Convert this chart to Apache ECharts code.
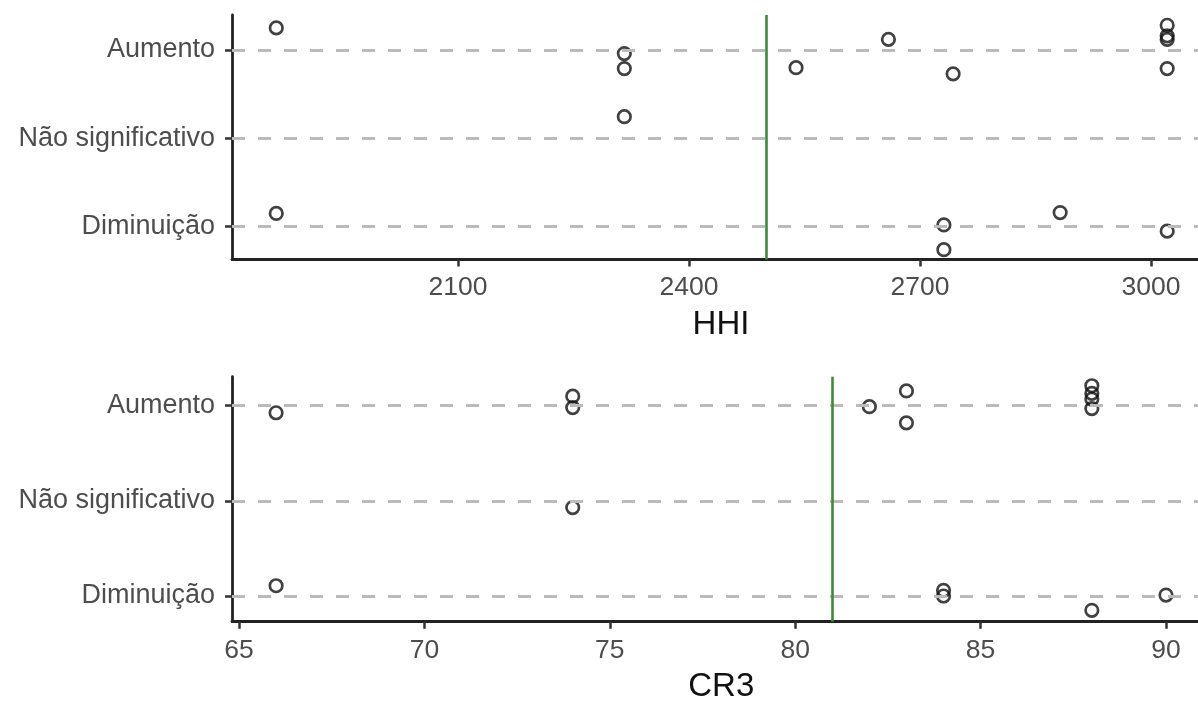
<!DOCTYPE html>
<html>
<head>
<meta charset="utf-8">
<script src="https://cdn.jsdelivr.net/npm/echarts@6/dist/echarts.min.js"></script>
<style>
html,body{margin:0;padding:0;background:#fff;}
#chart{width:1198px;height:701px;}
</style>
</head>
<body>
<div id="chart"></div>
<script>
// Category labels (index 1..3 on the y axis)
const categories = ['Diminuição', 'Não significativo', 'Aumento'];

// HHI panel: x value, category index (1..3), vertical jitter
const hhiX      = [1864, 2316, 2316, 2539, 2659, 2743, 3021, 3021, 3021, 3021, 2316, 1864, 2731, 2731, 2882, 3021];
const hhiCat    = [3, 3, 3, 3, 3, 3, 3, 3, 3, 3, 2, 1, 1, 1, 1, 1];
const hhiJitter = [0.25, -0.04, -0.21, -0.20, 0.12, -0.27, 0.28, 0.16, 0.12, -0.21, 0.245, 0.15, 0.02, -0.26, 0.16, -0.05];
const hhiThreshold = 2500;
const hhiTicks = [2100, 2400, 2700, 3000];

// CR3 panel
const cr3X      = [66, 74, 74, 82, 83, 83, 88, 88, 88, 88, 74, 66, 84, 84, 88, 90];
const cr3Cat    = [3, 3, 3, 3, 3, 3, 3, 3, 3, 3, 2, 1, 1, 1, 1, 1];
const cr3Jitter = [-0.074, 0.10, -0.02, -0.01, 0.155, -0.18, 0.21, 0.13, 0.07, -0.03, -0.07, 0.108, 0.06, 0.0, -0.15, 0.01];
const cr3Threshold = 81;
const cr3Ticks = [65, 70, 75, 80, 85, 90];

const catTicks = [1, 2, 3];

const FONT = '"Liberation Sans", Arial, sans-serif';
const pts = (xs, cs, js) => xs.map((x, i) => [x, cs[i] + js[i]]);

function xAxisCfg(idx, min, max, ticks, name) {
  return {
    gridIndex: idx, type: 'value', min: min, max: max,
    name: name, nameLocation: 'middle', nameGap: 49,
    nameTextStyle: { fontFamily: FONT, fontSize: 33, color: '#111' },
    axisLine: { show: true, lineStyle: { color: '#222', width: 2.8 } },
    axisTick: { show: true, customValues: ticks, length: 7, lineStyle: { color: '#333', width: 2.5 } },
    axisLabel: { show: true, customValues: ticks, margin: 15, fontFamily: FONT, fontSize: 26.5, color: '#4D4D4D',
      formatter: v => String(v) },
    splitLine: { show: false }
  };
}
function yAxisCfg(idx, min, max) {
  return {
    gridIndex: idx, type: 'value', min: min, max: max,
    axisLine: { show: true, lineStyle: { color: '#222', width: 2.8 } },
    axisTick: { show: true, customValues: catTicks, length: 7, lineStyle: { color: '#333', width: 2.5 } },
    axisLabel: { show: true, customValues: catTicks, margin: 17, fontFamily: FONT, fontSize: 27, color: '#4D4D4D',
      formatter: v => categories[Math.round(v) - 1] },
    splitLine: { show: false }
  };
}
function panelSeries(idx, data, threshold) {
  return [
    { type: 'scatter', xAxisIndex: idx, yAxisIndex: idx, data: [], z: 1, silent: true,
      markLine: { silent: true, symbol: 'none', label: { show: false }, animation: false,
        lineStyle: { type: [13, 13], color: '#BBBBBB', width: 3 },
        emphasis: { disabled: true },
        data: catTicks.map(v => ({ yAxis: v })) } },
    { type: 'scatter', xAxisIndex: idx, yAxisIndex: idx, data: [], z: 2, silent: true,
      markLine: { silent: true, symbol: 'none', label: { show: false }, animation: false,
        lineStyle: { type: 'solid', color: '#3A8C3A', width: 2.6 },
        emphasis: { disabled: true },
        data: [{ xAxis: threshold }] } },
    { type: 'scatter', xAxisIndex: idx, yAxisIndex: idx, data: data, z: 3,
      symbol: 'circle', symbolSize: 12.5,
      itemStyle: { color: 'rgba(0,0,0,0)', borderColor: '#111', borderWidth: 2.7 } }
  ];
}

const chart = echarts.init(document.getElementById('chart'), null, { renderer: 'canvas' });
chart.setOption({
  animation: false,
  backgroundColor: '#ffffff',
  grid: [
    { left: 232, top: 15, width: 978, height: 244.5, containLabel: false, outerBoundsMode: 'none' },
    { left: 232, top: 376.7, width: 978.5, height: 245, containLabel: false, outerBoundsMode: 'none' }
  ],
  xAxis: [
    xAxisCfg(0, 1806.5, 3076.6, hhiTicks, 'HHI'),
    xAxisCfg(1, 64.811, 91.2, cr3Ticks, 'CR3')
  ],
  yAxis: [
    yAxisCfg(0, 0.629, 3.396),
    yAxisCfg(1, 0.730, 3.305)
  ],
  series: [
    ...panelSeries(0, pts(hhiX, hhiCat, hhiJitter), hhiThreshold),
    ...panelSeries(1, pts(cr3X, cr3Cat, cr3Jitter), cr3Threshold)
  ]
});
</script>
</body>
</html>
